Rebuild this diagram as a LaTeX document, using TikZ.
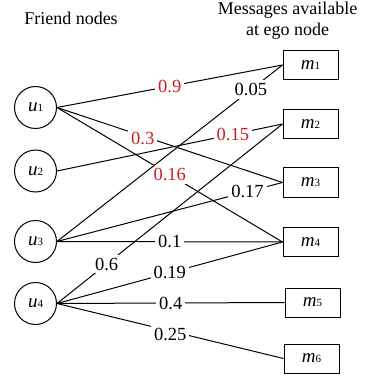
\documentclass[tikz,border=0pt]{standalone}
\usepackage{fontspec}
\setmainfont{Liberation Serif}
\newfontfamily\tnrfont{Liberation Serif}
\definecolor{lblred}{RGB}{204,30,30}
\tikzset{
  friend/.style={draw, circle, minimum size=42pt, inner sep=0pt, line width=1pt},
  msg/.style={draw, rectangle, minimum width=55pt, minimum height=29pt, inner sep=0pt, line width=1pt},
  conn/.style={line width=1pt},
  wlbl/.style={fill=white, inner sep=3pt, font=\tnrfont\fontsize{18.5}{20}\selectfont},
  rlbl/.style={wlbl, text=lblred},
  title/.style={anchor=base, font=\tnrfont\fontsize{18}{20}\selectfont}
}
\newcommand{\nlbl}[2]{\tnrfont\fontsize{19}{20}\selectfont\textit{#1}{\fontsize{11}{12}\selectfont #2}}
\begin{document}
\begin{tikzpicture}[x=1pt,y=-1pt]
\useasboundingbox (0,0) rectangle (366,379);
\node[title] (t1) at (71,25) {Friend nodes};
\node[title] (t2) at (287.5,15) {Messages available};
\node[title] (t3) at (287.5,36) {at ego node};

\node[friend] (u1) at (35.5,107.5) {\nlbl{u}{1}};
\node[friend] (u2) at (35.5,171) {\nlbl{u}{2}};
\node[friend] (u3) at (35.5,241.5) {\nlbl{u}{3}};
\node[friend] (u4) at (35.5,303.5) {\nlbl{u}{4}};

\node[msg] (m1) at (310.5,65) {\nlbl{m}{1}};
\node[msg] (m2) at (310.5,124) {\nlbl{m}{2}};
\node[msg] (m3) at (310.5,182.5) {\nlbl{m}{3}};
\node[msg] (m4) at (310.5,242) {\nlbl{m}{4}};
\node[msg] (m5) at (312.5,302.5) {\nlbl{m}{5}};
\node[msg] (m6) at (311.5,358.5) {\nlbl{m}{6}};

\draw[conn] (u1.east) -- (m1.west) node[rlbl, pos=0.5] {0.9};
\draw[conn] (u1.east) -- (m3.west) node[rlbl, pos=0.38, yshift=-2pt] {0.3};
\draw[conn] (u1.east) -- (m4.west) node[rlbl, pos=0.5] {0.16};
\draw[conn] (u2.east) -- (m2.west) node[rlbl, pos=0.78] {0.15};
\draw[conn] (u3.east) -- (m1.west) node[wlbl, pos=0.86] {0.05};
\draw[conn] (u3.east) -- (m3.west) node[wlbl, pos=0.845] {0.17};
\draw[conn] (u3.east) -- (m4.west) node[wlbl, pos=0.5] {0.1};
\draw[conn] (u4.east) -- (m2.west) node[wlbl, pos=0.22] {0.6};
\draw[conn] (u4.east) -- (m4.west) node[wlbl, pos=0.5] {0.19};
\draw[conn] (u4.east) -- (m5.west) node[wlbl, pos=0.5] {0.4};
\draw[conn] (u4.east) -- (m6.west) node[wlbl, pos=0.5, yshift=-3pt] {0.25};
\end{tikzpicture}
\end{document}
